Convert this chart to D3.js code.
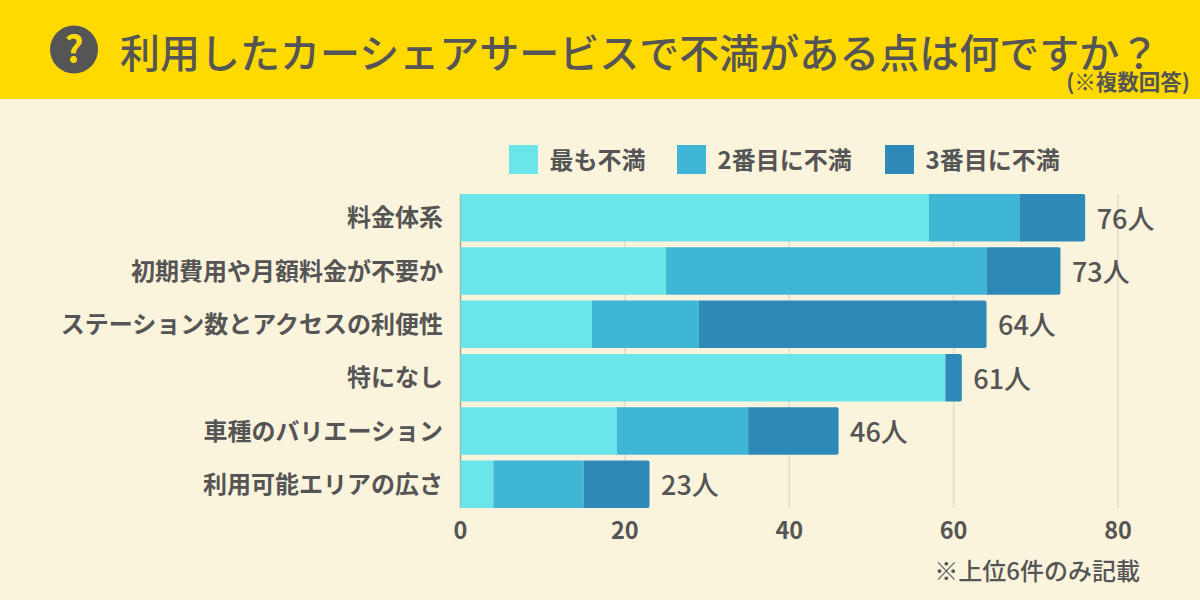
<!DOCTYPE html>
<html lang="ja">
<head>
<meta charset="utf-8">
<script src="https://cdnjs.cloudflare.com/ajax/libs/d3/7.8.5/d3.min.js"></script>
<style>
    html, body { margin: 0; padding: 0; background: #fbf4dc; }
    svg { display: block; }
    text { font-family: "Noto Sans CJK JP", "Noto Sans", sans-serif; fill: #555555; }
</style>
</head>
<body>
<script>
var categories = ["料金体系", "初期費用や月額料金が不要か", "ステーション数とアクセスの利便性", "特になし", "車種のバリエーション", "利用可能エリアの広さ"];
var seriesNames = ["最も不満", "2番目に不満", "3番目に不満"];
var first = [57, 25, 16, 59, 19, 4];
var second = [11, 39, 13, 0, 16, 11];
var third = [8, 9, 35, 2, 11, 8];
var totals = [76, 73, 64, 61, 46, 23];
var xTicks = [0, 20, 40, 60, 80];
var colors = ["#6ae6ea", "#40b6d6", "#2c89b8"];

var width = 1200, height = 600;
var svg = d3.select("body").append("svg").attr("width", width).attr("height", height);

// header
svg.append("rect").attr("width", width).attr("height", 99).attr("fill", "#ffda00");
svg.append("circle").attr("cx", 74).attr("cy", 49.5).attr("r", 24).attr("fill", "#555555");
svg.append("text").attr("x", 74).attr("y", 63).attr("text-anchor", "middle")
    .attr("font-size", 37).attr("font-weight", 700).style("fill", "#ffda00").text("?");
svg.append("text").attr("x", 120).attr("y", 67.5).attr("font-size", 40).attr("font-weight", 500)
    .text("利用したカーシェアサービスで不満がある点は何ですか？");
svg.append("text").attr("x", 1190).attr("y", 89.5).attr("text-anchor", "end")
    .attr("font-size", 21.5).attr("font-weight", 700).text("(※複数回答)");

var x = d3.scaleLinear().domain([0, 80]).range([460.5, 1118]);
var y = d3.scaleBand().domain(categories).range([191, 511]).paddingInner(0.11).paddingOuter(0.055);

// grid
svg.append("g").selectAll("line").data(xTicks).enter().append("line")
    .attr("x1", function (d) { return x(d); })
    .attr("x2", function (d) { return x(d); })
    .attr("y1", 194).attr("y2", 508)
    .attr("stroke", function (d) { return d === 0 ? "#a5a294" : "#e0dcc6"; })
    .attr("stroke-width", 1.5);

// stacked bars, last segment gets small rounded ends on the right
var rows = categories.map(function (c, i) {
    return { cat: c, s0: first[i], s1: second[i], s2: third[i] };
});
var stack = d3.stack().keys(["s0", "s1", "s2"])(rows);

function segment(d, seriesIndex) {
    var x0 = x(d[0]), x1 = x(d[1]), y0 = y(d.data.cat), h = y.bandwidth();
    var r = seriesIndex === 2 ? 2 : 0;
    return "M" + x0 + "," + y0 + "H" + (x1 - r) + "Q" + x1 + "," + y0 + " " + x1 + "," + (y0 + r) +
        "V" + (y0 + h - r) + "Q" + x1 + "," + (y0 + h) + " " + (x1 - r) + "," + (y0 + h) + "H" + x0 + "Z";
}

svg.append("g").selectAll("g").data(stack).enter().append("g")
    .attr("fill", function (d, i) { return colors[i]; })
    .each(function (s, i) {
        d3.select(this).selectAll("path")
            .data(s.filter(function (d) { return d[1] > d[0]; }))
            .enter().append("path")
            .attr("d", function (d) { return segment(d, i); });
    });

// category labels
svg.append("g").selectAll("text").data(categories).enter().append("text")
    .attr("x", 443)
    .attr("y", function (d) { return y(d) + y.bandwidth() / 2 + 8.5; })
    .attr("text-anchor", "end")
    .attr("font-size", 24).attr("font-weight", 700)
    .text(function (d) { return d; });

// totals
svg.append("g").selectAll("text").data(totals).enter().append("text")
    .attr("x", function (d) { return x(d) + 11.5; })
    .attr("y", function (d, i) { return y(categories[i]) + y.bandwidth() / 2 + 11; })
    .attr("font-size", 27).attr("font-weight", 500)
    .text(function (d) { return d + "人"; });

// x axis
svg.append("g").selectAll("text").data(xTicks).enter().append("text")
    .attr("x", function (d) { return x(d); })
    .attr("y", 539)
    .attr("text-anchor", "middle")
    .attr("font-size", 23.5).attr("font-weight", 700)
    .text(function (d) { return d; });

// legend
var legendX = [509, 677, 885];
var legend = svg.append("g").selectAll("g").data(seriesNames).enter().append("g")
    .attr("transform", function (d, i) { return "translate(" + legendX[i] + ",145)"; });
legend.append("rect").attr("width", 29).attr("height", 29)
    .attr("fill", function (d, i) { return colors[i]; });
legend.append("text").attr("x", 40.5).attr("y", 23.5)
    .attr("font-size", 24).attr("font-weight", 700)
    .text(function (d) { return d; });

svg.append("text").attr("x", 1140).attr("y", 580).attr("text-anchor", "end")
    .attr("font-size", 24).attr("font-weight", 500).text("※上位6件のみ記載");
</script>
</body>
</html>
